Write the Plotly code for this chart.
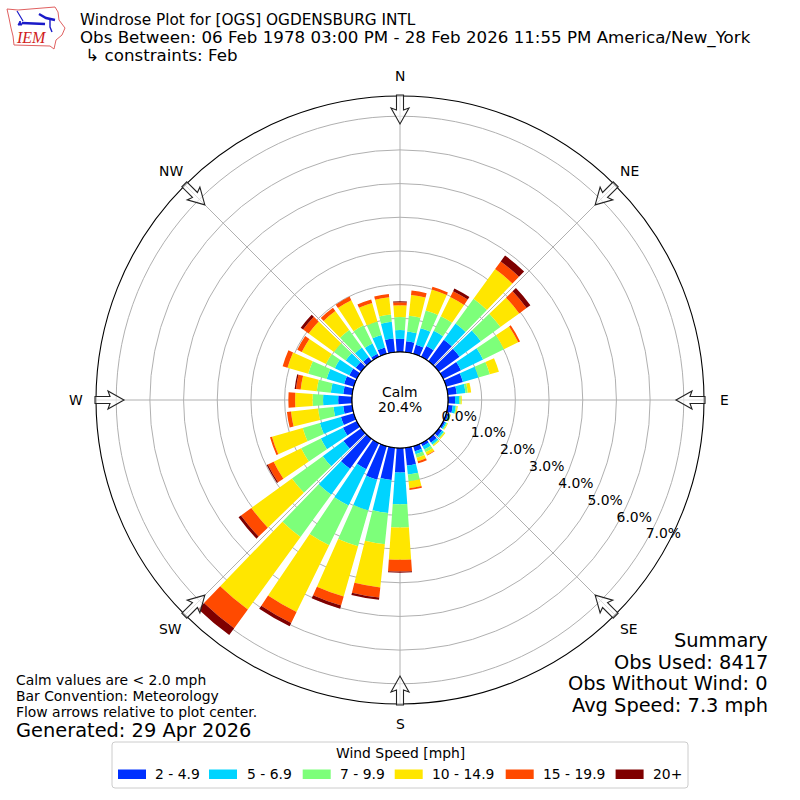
import math
import plotly.graph_objects as go

directions = [i * 10 for i in range(36)]
speed_bins = ["2 - 4.9", "5 - 6.9", "7 - 9.9", "10 - 14.9", "15 - 19.9", "20+"]
bin_colors = ["#0030ff", "#00d4ff", "#7dff7a", "#ffe600", "#ff4a00", "#7f0000"]

pct_2_5 = [.39,.33,.28,.36,.79,.76,.59,.52,.27,.21,.15,.07,.07,.12,.14,.10,.16,.53,
           .73,.96,1.04,.86,1.10,.65,.46,.40,.27,.41,.27,.30,.25,.20,.15,.10,.20,.41]
pct_5_7 = [.26,.29,.51,.50,.59,.78,.73,.48,.26,.12,.09,.04,.04,.06,.07,.11,.09,.27,
           .94,.99,.95,1.20,.95,.76,.73,.65,.29,.45,.37,.54,.48,.37,.35,.34,.38,.50]
pct_7_10 = [.39,.47,.55,.48,.91,.72,.69,.35,.07,.05,.03,.02,.03,.03,.03,.09,.11,.20,
            .69,.93,1.10,1.31,1.55,1.13,.65,.53,.46,.31,.42,.57,.29,.43,.64,.60,.42,.22]
pct_10_15 = [.35,.62,.65,.64,1.09,.69,.47,.28,.10,.03,.03,.02,.02,.03,.03,.09,.11,.21,
             .96,1.29,1.55,2.21,2.66,1.49,.91,.95,.81,.52,.48,.64,.80,.93,.70,.83,.57,.51]
pct_15_20 = [.09,.13,.08,.19,.28,.27,.06,0,0,0,0,0,0,0,0,.02,.06,.05,
             .35,.30,.28,.36,.69,.38,.19,.06,.12,.20,.14,.15,.15,.20,.12,.12,.11,.10]
pct_20_up = [.03,0,0,.09,.22,.14,0,0,0,0,0,0,0,0,0,0,0,0,
             .03,.07,.10,.11,.25,.09,.04,0,0,0,.04,0,0,.09,0,0,0,0]
series = [pct_2_5, pct_5_7, pct_7_10, pct_10_15, pct_15_20, pct_20_up]

radial_ticks = [0, 1, 2, 3, 4, 5, 6, 7]
radial_labels = ["0.0%", "1.0%", "2.0%", "3.0%", "4.0%", "5.0%", "6.0%", "7.0%"]
compass_angles = [0, 45, 90, 135, 180, 225, 270, 315]
compass_labels = ["N", "NE", "E", "SE", "S", "SW", "W", "NW"]

FONT = "DejaVu Sans"
GRID = "#b0b0b0"
CX, CY, R_OUT, R_HOLE = 400, 400, 304, 48
R_MAX = 7.6


def px(x):
    return x / 800


def py(y):
    return 1 - y / 800


fig = go.Figure()
for name, color, vals in zip(speed_bins, bin_colors, series):
    fig.add_trace(go.Barpolar(r=vals, theta=directions, width=8, name=name,
                              marker=dict(color=color, line=dict(width=0)),
                              hoverinfo="skip", showlegend=False))

# hole outline
fig.add_trace(go.Scatterpolar(r=[0] * 361, theta=list(range(361)), mode="lines",
                              line=dict(color="black", width=1.1), showlegend=False,
                              hoverinfo="skip"))
# radial labels
fig.add_trace(go.Scatterpolar(r=radial_ticks, theta=[120] * len(radial_ticks), mode="text",
                              text=radial_labels, textposition="top right",
                              textfont=dict(family=FONT, size=13.9, color="black"),
                              showlegend=False, hoverinfo="skip", cliponaxis=False))

shapes = []
annotations = []


def note(x, y, text, size, anchor="left", **kw):
    shift = {"left": -2, "right": 2, "center": 0}[anchor]
    annotations.append(dict(x=px(x + shift), y=py(y), xref="paper", yref="paper", text=text,
                            showarrow=False, xanchor=anchor, yanchor="middle",
                            font=dict(family=FONT, size=size, color="black"), **kw))


# flow arrows and compass labels
for a, lab in zip(compass_angles, compass_labels):
    t = math.radians(a)
    ux, uy = math.sin(t), -math.cos(t)
    vx, vy = -uy, ux
    outline = [(305, 3.5), (290, 3.5), (292, 9), (276, 0), (292, -9), (290, -3.5), (305, -3.5)]
    pts = [(CX + ux * d + vx * w, CY + uy * d + vy * w) for d, w in outline]
    path = "M " + " L ".join(f"{px(x):.5f},{py(y):.5f}" for x, y in pts) + " Z"
    shapes.append(dict(type="path", xref="paper", yref="paper", path=path,
                       fillcolor="rgba(255,255,255,0.6)", line=dict(color="#222222", width=1.1)))
    note(CX + ux * 324, CY + uy * 324, lab, 13.9, "center")


def poly(points, close=False, **kw):
    path = "M " + " L ".join(f"{px(x):.5f},{py(y):.5f}" for x, y in points)
    if close:
        path += " Z"
    shapes.append(dict(type="path", xref="paper", yref="paper", path=path, **kw))


# logo
poly([(7, 9), (18, 10), (55, 7), (58, 12), (59, 20), (65, 28), (62, 35), (56, 40), (54, 49),
      (50, 46), (14, 45), (13, 36), (11, 28), (9, 18), (7, 9)],
     line=dict(color="#e06060", width=1), fillcolor="rgba(0,0,0,0)")
poly([(22, 23), (45, 24)], line=dict(color="#1a1ac8", width=2.4))
poly([(17, 11), (20, 16), (23, 21)], line=dict(color="#1a1ac8", width=1.2))
poly([(39, 14), (46, 18), (55, 20)], line=dict(color="#1a1ac8", width=2.4))
poly([(50, 20), (50, 27), (52, 32)], line=dict(color="#1a1ac8", width=1.4))
poly([(18, 25), (22, 25), (20, 21)], close=True, line=dict(color="#1a1ac8", width=1),
     fillcolor="#1a1ac8")

# legend box
bx0, bx1, by0, by1, rad = 112, 688, 742, 788, 3
box = (f"M {px(bx0+rad):.5f},{py(by0):.5f} L {px(bx1-rad):.5f},{py(by0):.5f} "
       f"Q {px(bx1):.5f},{py(by0):.5f} {px(bx1):.5f},{py(by0+rad):.5f} "
       f"L {px(bx1):.5f},{py(by1-rad):.5f} Q {px(bx1):.5f},{py(by1):.5f} {px(bx1-rad):.5f},{py(by1):.5f} "
       f"L {px(bx0+rad):.5f},{py(by1):.5f} Q {px(bx0):.5f},{py(by1):.5f} {px(bx0):.5f},{py(by1-rad):.5f} "
       f"L {px(bx0):.5f},{py(by0+rad):.5f} Q {px(bx0):.5f},{py(by0):.5f} {px(bx0+rad):.5f},{py(by0):.5f} Z")
shapes.append(dict(type="path", xref="paper", yref="paper", path=box, fillcolor="white",
                   line=dict(color="#cccccc", width=1)))
swatch_left = [118, 209, 302.7, 394.7, 505.7, 615.6]
label_left = [155, 247, 340, 432, 542.5, 653]
for sx, lx, name, color in zip(swatch_left, label_left, speed_bins, bin_colors):
    shapes.append(dict(type="rect", xref="paper", yref="paper", x0=px(sx), x1=px(sx + 28),
                       y0=py(779), y1=py(769.5), fillcolor=color, line=dict(width=0)))
    note(lx, 774, name, 13.9)
note(400, 753, "Wind Speed [mph]", 13.9, "center")

note(80, 20, "Windrose Plot for [OGS] OGDENSBURG INTL", 15.3)
note(80, 37.5, "Obs Between: 06 Feb 1978 03:00 PM - 28 Feb 2026 11:55 PM America/New_York", 16.67)
note(80, 55.5, " ↳ constraints: Feb", 16.67)
note(400, 392, "Calm", 13.9, "center")
note(400, 407, "20.4%", 13.9, "center")
note(16, 680, "Calm values are &lt; 2.0 mph", 13.9)
note(16, 696, "Bar Convention: Meteorology", 13.9)
note(16, 712, "Flow arrows relative to plot center.", 13.9)
note(16, 730, "Generated: 29 Apr 2026", 19.4)
note(768, 640, "Summary", 19.4, "right")
note(768, 662, "Obs Used: 8417", 19.4, "right")
note(768, 683, "Obs Without Wind: 0", 19.4, "right")
note(768, 705, "Avg Speed: 7.3 mph", 19.4, "right")
annotations.append(dict(x=px(31), y=py(38), xref="paper", yref="paper", text="<i>IEM</i>",
                        showarrow=False, xanchor="center", yanchor="middle",
                        font=dict(family="Liberation Serif", size=16, color="#d02020")))

fig.update_layout(
    width=800, height=800, margin=dict(l=0, r=0, t=0, b=0), autosize=False,
    paper_bgcolor="white", plot_bgcolor="white", showlegend=False,
    font=dict(family=FONT, size=13.9, color="black"),
    polar=dict(
        domain=dict(x=[px(CX - R_OUT), px(CX + R_OUT)], y=[py(CY + R_OUT), py(CY - R_OUT)]),
        hole=R_HOLE / R_OUT, bgcolor="white", barmode="stack",
        radialaxis=dict(range=[0, R_MAX], tickvals=radial_ticks, showticklabels=False,
                        ticks="", showline=False, gridcolor=GRID, gridwidth=1.1,
                        angle=120, layer="above traces"),
        angularaxis=dict(rotation=90, direction="clockwise", tickvals=compass_angles,
                         showticklabels=False, ticks="", linecolor="black", linewidth=1.1,
                         gridcolor=GRID, gridwidth=1.1, layer="above traces"),
    ),
    shapes=shapes, annotations=annotations,
)

fig.write_html("out.html", config=dict(displayModeBar=False),
               post_script="document.body.style.margin='0';")
